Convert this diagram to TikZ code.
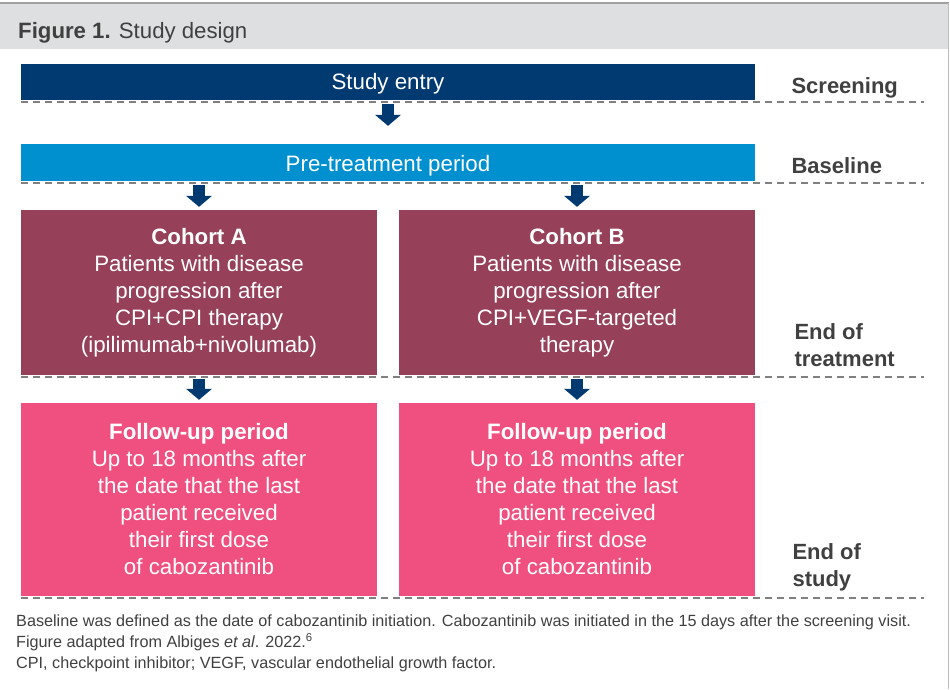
\documentclass[tikz,border=0pt]{standalone}
\usepackage{fontspec}
\setmainfont{Liberation Sans}
\usetikzlibrary{arrows.meta,calc}
\definecolor{navy}{HTML}{003A70}
\definecolor{skyb}{HTML}{0090D0}
\definecolor{maroon}{HTML}{96405A}
\definecolor{pinkc}{HTML}{EF5080}
\definecolor{txtgray}{HTML}{404040}
\definecolor{bandgray}{HTML}{DEDFE1}
\definecolor{rulegray}{HTML}{A0A0A0}
\definecolor{dashgray}{HTML}{808080}
\begin{document}
\begin{tikzpicture}[x=1pt,y=-1pt,
  box/.style={rectangle,inner sep=0pt,text=white,align=center,
    font=\fontsize{22.3}{27}\selectfont},
  barrow/.style={draw=navy,line width=12pt,
    -{Triangle[width=26pt,length=11pt,line width=0pt]}},
  dashline/.style={draw=dashgray,line width=2pt,dash pattern=on 7pt off 5pt},
  lab/.style={anchor=west,align=left,text=txtgray,
    font=\fontsize{22}{27}\selectfont\bfseries}]
\useasboundingbox (0,0) rectangle (950,689);
% header band and frame
\fill[bandgray] (0,3) rectangle (948,49);
\draw[rulegray,line width=1.5pt] (0,3) -- (948.5,3);
\draw[rulegray!70,line width=1pt] (948.5,3) -- (948.5,689);
\node[anchor=base west,inner sep=0pt,text=txtgray,font=\fontsize{22.2}{26}\selectfont] (title) at (18,38) {\textbf{Figure 1.} Study design};
% boxes
\node[box,fill=navy,minimum width=734pt,minimum height=36pt,text height=20pt] (entry) at (388,82) {Study entry};
\node[box,fill=skyb,minimum width=734pt,minimum height=37pt,text height=22pt] (pre) at (388,162.5) {Pre-treatment period};
\node[box,fill=maroon,minimum width=356pt,minimum height=165pt] (coA) at (199,292.5) {\textbf{Cohort A}\\Patients with disease\\progression after\\CPI+CPI therapy\\(ipilimumab+nivolumab)};
\node[box,fill=maroon,minimum width=356pt,minimum height=165pt] (coB) at (577,292.5) {\textbf{Cohort B}\\Patients with disease\\progression after\\CPI+VEGF-targeted\\therapy};
\node[box,fill=pinkc,minimum width=356pt,minimum height=193pt] (fuA) at (199,499.5) {\textbf{Follow-up period}\\Up to 18 months after\\the date that the last\\patient received\\their first dose\\of cabozantinib};
\node[box,fill=pinkc,minimum width=356pt,minimum height=193pt] (fuB) at (577,499.5) {\textbf{Follow-up period}\\Up to 18 months after\\the date that the last\\patient received\\their first dose\\of cabozantinib};
% dashed phase lines
\draw[dashline] ($(entry.south west)+(0,1.5)$) -- ++(903,0);
\draw[dashline] ($(pre.south west)+(0,1.5)$) -- ++(903,0);
\draw[dashline] ($(coA.south west)+(0,2)$) -- ++(903,0);
\draw[dashline] ($(fuA.south west)+(0,2)$) -- ++(903,0);
% arrows
\draw[barrow] ($(entry.south)+(0,4)$) -- ($(pre.north)+(0,-18)$);
\draw[barrow] ($(pre.south -| coA.north)+(0,4)$) -- ($(coA.north)+(0,-3)$);
\draw[barrow] ($(pre.south -| coB.north)+(0,4)$) -- ($(coB.north)+(0,-3)$);
\draw[barrow] ($(coA.south)+(0,4)$) -- ($(fuA.north)+(0,-3)$);
\draw[barrow] ($(coB.south)+(0,4)$) -- ($(fuB.north)+(0,-3)$);
% phase labels
\node[lab] (screen) at (788,87.5) {Screening};
\node[lab] (base) at (788,165.5) {Baseline};
\node[lab] (eot) at (791,345.5) {End of\\treatment};
\node[lab] (eos) at (789,567.5) {End of\\study};
% footnote
\node[anchor=north west,inner sep=0pt,align=left,text=txtgray,font=\fontsize{16.2}{21}\selectfont] (foot) at (16,614.5) {Baseline was defined as the date of cabozantinib initiation. Cabozantinib was initiated in the 15 days after the screening visit.\\Figure adapted from Albiges \textit{et al}. 2022.\textsuperscript{6}\\CPI, checkpoint inhibitor; VEGF, vascular endothelial growth factor.};
\end{tikzpicture}
\end{document}
